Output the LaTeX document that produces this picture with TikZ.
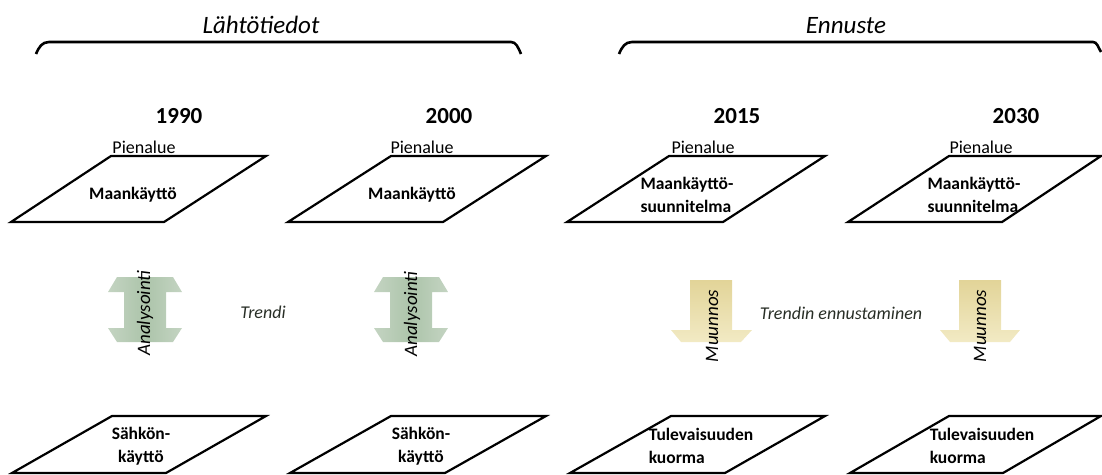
\documentclass[tikz,border=0pt]{standalone}
\usepackage{fontspec}
\setmainfont{Carlito}
\usepackage{tikz}

\begin{document}
\begin{tikzpicture}[x=1pt,y=1pt,yscale=-1,xscale=1,
  landbox/.style={line width=2.2pt,line join=miter},
  bracket/.style={line width=2.6pt},
  headlbl/.style={inner sep=0.75pt,anchor=base,font=\fontsize{25}{28}\selectfont\itshape},
  yearlbl/.style={inner sep=0.75pt,anchor=base,font=\fontsize{23}{26}\selectfont\bfseries},
  arealbl/.style={inner sep=0.75pt,anchor=base,font=\fontsize{18}{22}\selectfont},
  boxlbl/.style={inner sep=0.75pt,font=\fontsize{17.5}{23}\selectfont\bfseries},
  trendlbl/.style={inner sep=0.75pt,text={rgb,255:red,40;green,46;blue,38},font=\fontsize{18}{22}\selectfont\itshape},
  arrowlbl/.style={inner sep=0.75pt,rotate=90,font=\fontsize{19}{22}\selectfont\itshape},
  greenarrow/.style={left color={rgb,255:red,196;green,212;blue,194},right color={rgb,255:red,196;green,212;blue,194},middle color={rgb,255:red,172;green,196;blue,170}},
  tanarrow/.style={top color={rgb,255:red,226;green,212;blue,152},bottom color={rgb,255:red,242;green,234;blue,196}}]
\useasboundingbox (0,0) rectangle (1102,474);

%Brackets
\draw [bracket] (36,54) .. controls (39,47) and (42,42) .. (49,42) -- (511,42) .. controls (516,42) and (518,47) .. (521,54) ;
\draw [bracket] (619,54) .. controls (622,47) and (625,42) .. (632,42) -- (1093,42) .. controls (1097,42) and (1098,47) .. (1101,52) ;
% Text Node
\node [headlbl] (lahto) at (261,33) {Lähtötiedot};
% Text Node
\node [headlbl] (ennuste) at (846,33) {Ennuste};

% Text Node
\node [yearlbl] (y1990) at (179,123) {1990};
\node [yearlbl] (y2000) at (449,123) {2000};
\node [yearlbl] (y2015) at (737,123) {2015};
\node [yearlbl] (y2030) at (1016,123) {2030};

%Parallelograms: upper row
\draw [landbox] (111,156) -- (266,156) -- (164,222) -- (11,222) -- cycle ;
\draw [landbox] (391,156) -- (546,156) -- (443,222) -- (288,222) -- cycle ;
\draw [landbox] (669,156) -- (825,156) -- (723,222) -- (567,222) -- cycle ;
\draw [landbox] (949,156) -- (1101,156) -- (1002,222) -- (848,222) -- cycle ;
% Text Node
\node [arealbl] (pien1) at (144,153) {Pienalue};
\node [arealbl] (pien2) at (422,153) {Pienalue};
\node [arealbl] (pien3) at (703,153) {Pienalue};
\node [arealbl] (pien4) at (981,153) {Pienalue};
% Text Node
\node [boxlbl] (maa1) at (133,195) {Maankäyttö};
\node [boxlbl] (maa2) at (412,195) {Maankäyttö};
\node [boxlbl,align=left] (suun3) at (687,195) {Maankäyttö-\\suunnitelma};
\node [boxlbl,align=left] (suun4) at (974,195) {Maankäyttö-\\suunnitelma};

%Arrows
\draw [greenarrow,draw=none] (117,277) -- (173,277) -- (182,292) -- (166,292) -- (166,328) -- (182,328) -- (173,342) -- (117,342) -- (108,328) -- (124,328) -- (124,292) -- (108,292) -- cycle ;
\draw [greenarrow,draw=none] (383,277) -- (439,277) -- (448,292) -- (432,292) -- (432,328) -- (448,328) -- (439,342) -- (383,342) -- (374,328) -- (390,328) -- (390,292) -- (374,292) -- cycle ;
\draw [tanarrow,draw=none] (690,280) -- (732,280) -- (732,330) -- (752,330) -- (741,342) -- (681,342) -- (671,330) -- (690,330) -- cycle ;
\draw [tanarrow,draw=none] (959,280) -- (1001,280) -- (1001,330) -- (1020,330) -- (1010,342) -- (950,342) -- (940,330) -- (959,330) -- cycle ;
% Text Node
\node [arrowlbl] (anal1) at (145,313) {Analysointi};
\node [arrowlbl] (anal2) at (412,314) {Analysointi};
\node [arrowlbl] (muun1) at (712,326) {Muunnos};
\node [arrowlbl] (muun2) at (980,326) {Muunnos};
% Text Node
\node [trendlbl] (trendi) at (263,312) {Trendi};
\node [trendlbl] (ennustus) at (841,313) {Trendin ennustaminen};

%Parallelograms: lower row
\draw [landbox] (112,416) -- (266,416) -- (166,473) -- (12,473) -- cycle ;
\draw [landbox] (391,416) -- (546,416) -- (445,473) -- (290,473) -- cycle ;
\draw [landbox] (671,416) -- (825,416) -- (725,473) -- (570,473) -- cycle ;
\draw [landbox] (949,416) -- (1101,416) -- (1003,473) -- (850,473) -- cycle ;
% Text Node
\node [boxlbl,align=center] (sahko1) at (141,446) {Sähkön-\\käyttö};
\node [boxlbl,align=center] (sahko2) at (421,446) {Sähkön-\\käyttö};
\node [boxlbl,align=left] (kuor3) at (701,446) {Tulevaisuuden\\kuorma};
\node [boxlbl,align=left] (kuor4) at (982,446) {Tulevaisuuden\\kuorma};

\end{tikzpicture}
\end{document}
